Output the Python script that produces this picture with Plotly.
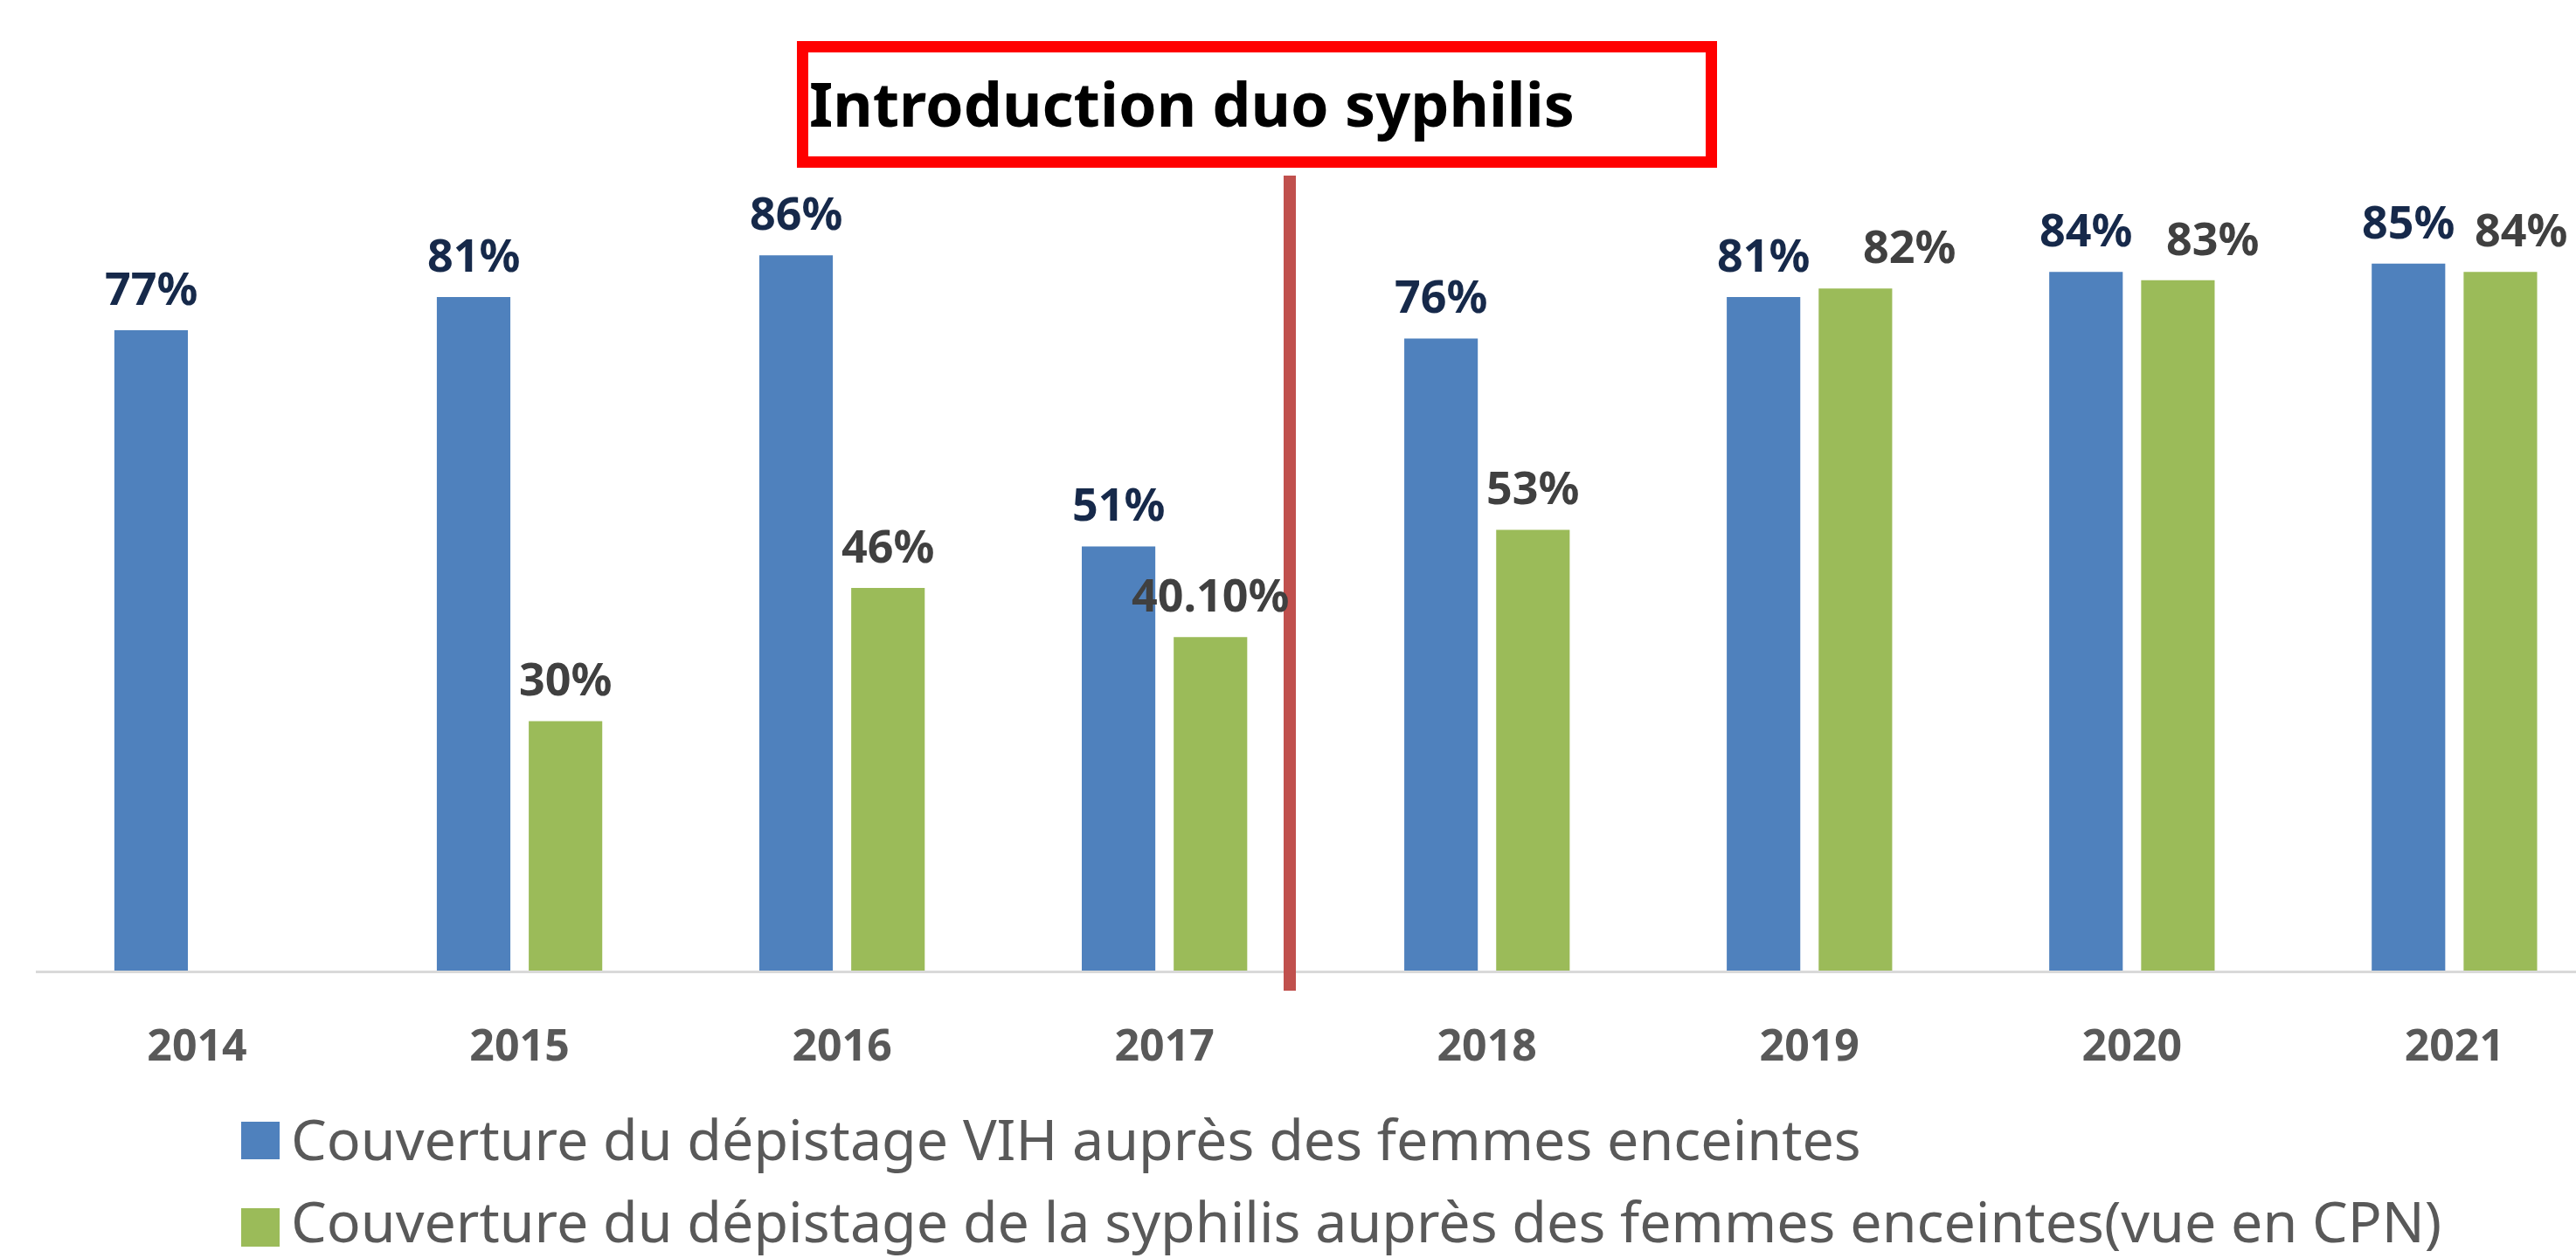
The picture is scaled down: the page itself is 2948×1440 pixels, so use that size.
import plotly.graph_objects as go

# ---------------- data ----------------
years = ["2014", "2015", "2016", "2017", "2018", "2019", "2020", "2021"]
vih_values = [77, 81, 86, 51, 76, 81, 84, 85]
syph_values = [None, 30, 46, 40.1, 53, 82, 83, 84]
vih_labels = ["77%", "81%", "86%", "51%", "76%", "81%", "84%", "85%"]
syph_labels = ["", "30%", "46%", "40.10%", "53%", "82%", "83%", "84%"]
vih_name = "Couverture du dépistage VIH auprès des femmes enceintes"
syph_name = "Couverture du dépistage de la syphilis auprès des femmes enceintes(vue en CPN)"
callout_text = "Introduction duo syphilis"

# ---------------- style ----------------
W, H = 2948, 1440
ML, MR, MT, MB = 41, 0, 0, 329
PW, PH = W - ML - MR, H - MT - MB
BLUE, GREEN = "#4F81BD", "#9BBB59"
BLUE_LBL, GREEN_LBL = "#16294A", "#404040"
AXIS_TXT = "#595959"
FONT = "Noto Sans, Open Sans, sans-serif"
BARGAP = 0.43
BARGROUPGAP = 0.2
YMAX = PH / 9.52
XRANGE = [-0.5, 7.377]
slot = (1 - BARGAP) / 2
green_nudge = [0, 0, 0, 0, 0, 62, 40, 24]   # pixel nudges of some labels


def px_x(p):
    return (p - ML) / PW


def px_y(p):
    return (MT + PH - p) / PH


fig = go.Figure()
fig.add_trace(go.Bar(x=years, y=vih_values, name=vih_name,
                     marker=dict(color=BLUE, line=dict(width=0)),
                     showlegend=False, hoverinfo="skip"))
fig.add_trace(go.Bar(x=years, y=syph_values, name=syph_name,
                     marker=dict(color=GREEN, line=dict(width=0)),
                     showlegend=False, hoverinfo="skip"))

annotations = []
for i, (v, t) in enumerate(zip(vih_values, vih_labels)):
    annotations.append(dict(x=i - slot / 2, y=v, xref="x", yref="y", text=t,
                            showarrow=False, yanchor="bottom", xanchor="center",
                            yshift=12,
                            font=dict(family=FONT, size=52, color=BLUE_LBL, weight="bold")))
for i, (v, t) in enumerate(zip(syph_values, syph_labels)):
    if v is None:
        continue
    annotations.append(dict(x=i + slot / 2, y=v, xref="x", yref="y", text=t,
                            showarrow=False, yanchor="bottom", xanchor="center",
                            yshift=12, xshift=green_nudge[i],
                            font=dict(family=FONT, size=52, color=GREEN_LBL, weight="bold")))

# callout text
annotations.append(dict(x=px_x(924), y=px_y(118), xref="paper", yref="paper",
                        text=callout_text, showarrow=False, xanchor="left",
                        yanchor="middle",
                        font=dict(family=FONT, size=70, color="#000000", weight="bold")))

# legend (manual)
shapes = []
legend_rows = [(vih_name, BLUE, 1284, 1327, 1303), (syph_name, GREEN, 1383, 1427, 1397)]
for name, col, y0, y1, yc in legend_rows:
    shapes.append(dict(type="rect", xref="paper", yref="paper",
                       x0=px_x(276), x1=px_x(320), y0=px_y(y1), y1=px_y(y0),
                       fillcolor=col, line=dict(width=0)))
    annotations.append(dict(x=px_x(331), y=px_y(yc), xref="paper", yref="paper",
                            text=name, showarrow=False, xanchor="left",
                            yanchor="middle",
                            font=dict(family=FONT, size=64.5, color=AXIS_TXT)))

# callout box
shapes.append(dict(type="rect", xref="paper", yref="paper",
                   x0=px_x(918.5), x1=px_x(1958.5), y0=px_y(185.5), y1=px_y(53.5),
                   fillcolor="rgba(0,0,0,0)", line=dict(color="#FF0000", width=13)))
# vertical separator (extends below the axis line)
shapes.append(dict(type="line", xref="paper", yref="paper",
                   x0=px_x(1476), x1=px_x(1476), y0=px_y(1134), y1=px_y(201),
                   line=dict(color="#C0504D", width=14)))

fig.update_layout(
    width=W, height=H,
    margin=dict(l=ML, r=MR, t=MT, b=MB, pad=0),
    paper_bgcolor="white", plot_bgcolor="white",
    barmode="group", bargap=BARGAP, bargroupgap=BARGROUPGAP,
    showlegend=False,
    annotations=annotations, shapes=shapes,
    xaxis=dict(type="category", range=XRANGE, showline=True, linecolor="#D9D9D9",
               linewidth=3, ticks="", showgrid=False, zeroline=False,
               ticklabelstandoff=40,
               tickfont=dict(family=FONT, size=50, color=AXIS_TXT, weight="bold")),
    yaxis=dict(range=[0, YMAX], visible=False, showgrid=False, zeroline=False),
)

fig.write_html("out.html", config={"displayModeBar": False},
               post_script="document.body.style.margin='0px';document.body.style.overflow='hidden';")
